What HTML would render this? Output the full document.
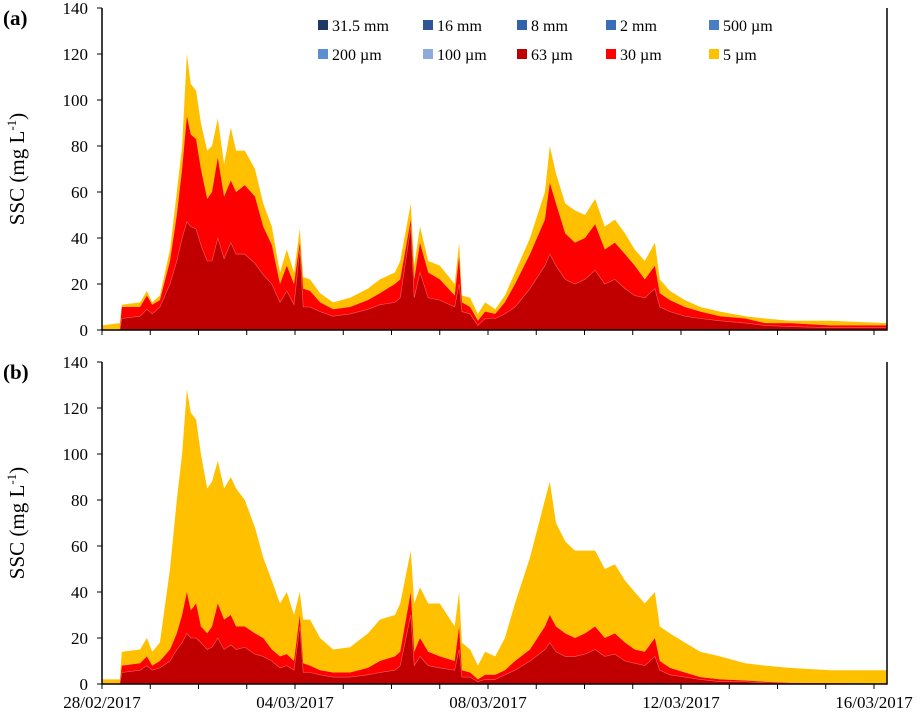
<!DOCTYPE html>
<html><head><meta charset="utf-8"><style>
body{margin:0;background:#fff}
svg text{font-family:"Liberation Serif",serif;fill:#000}
</style></head><body>
<svg id="chart" width="924" height="712" xmlns="http://www.w3.org/2000/svg"></svg>
<script>
// time in days since 28/02/2017 00:00
const times=[0,0.37,0.41,0.79,0.93,1.04,1.2,1.41,1.55,1.66,1.76,1.84,1.95,2.05,2.18,2.28,2.4,2.53,2.67,2.78,2.96,3.17,3.34,3.52,3.69,3.83,3.98,4.1,4.17,4.31,4.52,4.79,5.14,5.51,5.76,6.07,6.18,6.4,6.47,6.59,6.76,7.0,7.31,7.4,7.46,7.63,7.79,7.94,8.15,8.35,8.56,8.87,9.18,9.28,9.41,9.6,9.8,10.01,10.22,10.42,10.63,10.84,11.04,11.25,11.46,11.56,11.77,12.08,12.4,12.81,13.33,13.74,14.26,15.09,16.27];
// panel (a): cumulative totals (all), <=30um cumulative, 63um layer
const aTotal=[2,3,11,12,17,12,15,35,60,80,120,107,104,90,78,80,92,72,88,78,78,70,55,45,25,35,25,44,23,22,16,12,14,18,22,25,30,55,28,45,30,28,20,38,15,14,7,12,9,15,25,40,60,80,68,55,52,50,57,45,48,42,35,30,38,22,17,13,10,8,6,5,4,4,3];
const aCum30=[0,0,10,10,15,11,13,30,50,70,93,85,83,70,57,60,75,58,65,60,63,58,45,37,20,28,20,38,18,17,12,9,10,13,16,20,22,48,22,38,25,22,15,32,12,10,4,8,7,12,20,33,48,64,55,42,38,40,46,35,38,33,28,22,28,16,13,10,8,6,5,3,3,2,2];
const a63=[0,0,5,6,9,7,10,20,30,40,47,45,44,37,30,30,40,31,38,33,33,29,24,20,12,17,11,35,10,10,8,6,7,9,11,12,14,45,14,25,14,13,10,20,8,7,2,5,5,7,10,18,28,33,28,22,20,22,26,20,22,18,15,14,18,10,8,6,5,4,3,2,1.5,1,1];
// panel (b)
const bTotal=[2,2,14,15,20,14,18,50,80,100,128,118,115,100,85,88,97,85,90,85,80,68,55,45,35,40,30,40,28,28,20,15,16,22,28,30,35,58,35,42,35,35,25,40,18,15,8,14,12,20,35,55,80,88,70,62,58,58,58,50,52,45,40,35,40,25,22,18,14,12,9,8,7,6,6];
const bCum30=[0,0,8,9,12,8,10,15,22,30,40,32,35,25,22,25,35,28,30,25,25,22,20,15,12,13,10,30,9,8,6,5,5,7,10,12,14,40,14,20,14,12,10,25,6,5,2,4,4,6,10,15,25,30,25,22,20,22,25,20,22,18,15,14,20,10,7,5,3,2,1.5,1,0.5,0.3,0.2];
const b63=[0,0,5,6,8,6,7,10,15,18,22,20,20,18,15,16,20,15,17,15,16,13,12,10,7,8,6,25,5,5,4,3,3,4,5,6,8,30,8,12,8,7,6,15,3,3,1,2,2,4,6,10,15,18,14,12,12,13,15,12,13,10,9,8,12,6,4,3,2,1,1,0.5,0.3,0.2,0.1];
const yTicks=[0,20,40,60,80,100,120,140];
const dateLabels=["28/02/2017","04/03/2017","08/03/2017","12/03/2017","16/03/2017"];
const dateDays=[0,4,8,12,16];
const legendLabels=["31.5 mm","16 mm","8 mm","2 mm","500 µm","200 µm","100 µm","63 µm","30 µm","5 µm"];
const legendColors=["#203864","#2f5597","#3262aa","#3a6db8","#4a7ec4","#5b8fd2","#8faadc","#c00000","#ff0000","#ffc000"];

const NS="http://www.w3.org/2000/svg";
const svg=document.getElementById('chart');
const X0=102,X1=887,PXD=48.25;
const xs=t=>X0+t*PXD;
function mk(tag,attrs,parent){const e=document.createElementNS(NS,tag);for(const k in attrs)e.setAttribute(k,attrs[k]);(parent||svg).appendChild(e);return e;}
function area(lower,upper,ys,color,name,g,stroke){
  let d="M"+xs(times[0])+","+ys(upper[0]);
  for(let i=1;i<times.length;i++)d+="L"+xs(times[i]).toFixed(1)+","+ys(upper[i]).toFixed(1);
  for(let i=times.length-1;i>=0;i--)d+="L"+xs(times[i]).toFixed(1)+","+ys(lower?lower[i]:0).toFixed(1);
  const p=mk('path',{d:d+"Z",fill:color},g);
  if(stroke){p.setAttribute('stroke',stroke);p.setAttribute('stroke-width','0.6');}
  
  
}
function panel(top,bottom,total,cum30,s63,label,key){
  const ys=v=>bottom-(v/140)*(bottom-top);
  const g=mk('g',{});
  
  
  area(cum30,total,ys,"#ffc000","area-5um-"+key,g);
  area(s63,cum30,ys,"#ff0000","area-30um-"+key,g);
  area(null,s63,ys,"#c00000","area-63um-"+key,g,"#e86060");
  // axes
  const ax=mk('path',{d:`M${X0},${top}V${bottom}H${X1}V${top}`,fill:"none",stroke:"#000","stroke-width":"1.5"},g);
  
  
  yTicks.forEach(v=>{
    mk('line',{x1:X0-5,x2:X0,y1:ys(v),y2:ys(v),stroke:"#000","stroke-width":"1"},g);
    const t=mk('text',{x:X0-14,y:ys(v)+6,"text-anchor":"end","font-size":"17"},g);
    t.textContent=v;
    
    
  });
  for(let d=0;d<=16;d++){mk('line',{x1:xs(d),x2:xs(d),y1:bottom,y2:bottom+5,stroke:"#000","stroke-width":"1"},g);}
  const yt=mk('text',{x:0,y:0,transform:`translate(24,${(top+bottom)/2}) rotate(-90)`,"text-anchor":"middle","font-size":"21"},g);
  yt.innerHTML='SSC (mg L<tspan font-size="13" dy="-8">-1</tspan><tspan dy="8">)</tspan>';
  
  
  const pl=mk('text',{x:3,y:top+17,"font-size":"21","font-weight":"bold"},g);
  pl.textContent=label;
  
  
}
panel(8,330,aTotal,aCum30,a63,"(a)","a");
panel(362,684,bTotal,bCum30,b63,"(b)","b");
dateLabels.forEach((l,i)=>{
  const t=mk('text',{x:xs(dateDays[i]),y:708,"text-anchor":"middle","font-size":"17"});
  t.textContent=l;
  
  
});
const lg=mk('g',{});


const lx=[323,428,522,611,714];
legendLabels.forEach((l,i)=>{
  const x=lx[i%5],y=i<5?25:54;
  const e=mk('g',{},lg);
  
  
  mk('rect',{x:x-5,y:y-5,width:10,height:10,fill:legendColors[i]},e);
  const t=mk('text',{x:x+9,y:y+6,"font-size":"16"},e);
  t.textContent=l;
});
</script>
</body></html>
